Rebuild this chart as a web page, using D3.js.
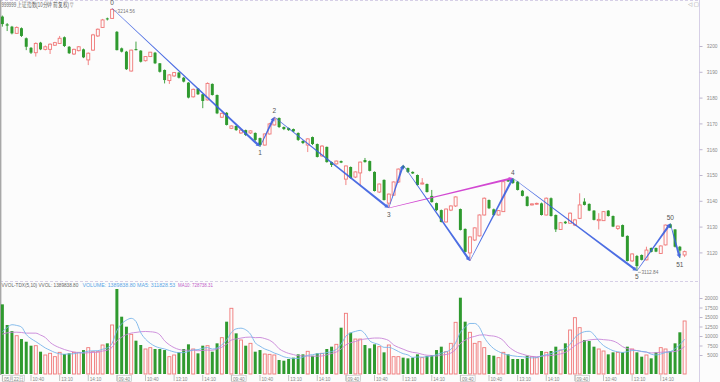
<!DOCTYPE html>
<html>
<head>
<meta charset="utf-8">
<script src="https://cdn.jsdelivr.net/npm/d3@7/dist/d3.min.js"></script>
<style>
body { margin: 0; background: #fcfcfc; }
svg { display: block; font-family: "Liberation Sans", "DejaVu Sans", sans-serif; }
</style>
</head>
<body>
<script>
// 10 minute bars, 6 days x 24 bars
var open = [
3211.4,3208.4,3207.5,3204.9,3206.9,3203.0,3199.3,3197.4,3201.3,3198.7,
3198.7,3200.3,3201.0,3203.4,3199.7,3196.9,3198.2,3198.7,3194.6,3198.4,
3203.9,3207.2,3210.7,3210.7,3205.5,3199.1,3197.8,3190.3,3198.8,3198.2,
3194.3,3195.9,3197.4,3193.3,3190.7,3186.6,3188.4,3189.7,3187.7,3185.8,
3180.3,3183.5,3181.3,3179.1,3185.3,3181.0,3172.4,3174.1,3168.1,3169.0,
3166.3,3167.4,3166.3,3166.3,3164.3,3161.6,3165.9,3169.4,3172.1,3168.6,
3168.2,3167.8,3166.3,3163.2,3161.6,3164.7,3162.0,3157.4,3160.9,3155.0,
3154.3,3155.4,3148.4,3153.1,3149.2,3150.8,3155.8,3155.4,3151.2,3143.4,
3148.1,3139.1,3142.2,3147.3,3153.5,3152.7,3151.2,3150.0,3146.5,3146.5,
3141.9,3139.1,3136.4,3131.8,3136.4,3138.0,3136.8,3129.1,3119.8,3124.8,
3126.4,3134.5,3140.3,3136.7,3134.5,3135.8,3148.2,3148.3,3147.4,3143.9,
3141.6,3138.4,3138.7,3139.0,3134.5,3141.0,3134.5,3128.9,3131.9,3131.3,
3130.6,3133.2,3139.7,3138.8,3136.2,3132.3,3132.3,3136.2,3134.1,3129.3,
3130.6,3126.4,3116.7,3118.6,3119.0,3117.1,3121.7,3121.7,3119.6,3122.9,
3130.9,3128.9,3122.2,3119.0
];
var close = [
3208.5,3207.9,3204.9,3207.2,3203.9,3199.7,3197.4,3201.0,3198.7,3199.7,
3200.7,3201.3,3203.0,3200.0,3197.2,3198.7,3199.7,3195.6,3197.2,3204.3,
3206.5,3210.1,3210.3,3214.2,3198.4,3197.8,3191.0,3198.4,3198.4,3193.9,
3195.9,3197.6,3193.3,3190.0,3186.8,3188.8,3189.7,3187.7,3186.2,3180.0,
3183.2,3181.3,3178.7,3185.5,3181.0,3173.9,3173.9,3169.4,3169.0,3167.4,
3167.4,3165.5,3167.1,3163.6,3161.6,3165.9,3169.8,3171.7,3168.6,3167.8,
3167.4,3166.9,3163.6,3162.4,3164.0,3162.0,3157.0,3161.2,3155.0,3153.9,
3155.4,3154.8,3153.5,3148.8,3151.2,3155.0,3155.0,3151.6,3143.8,3146.5,
3140.3,3142.6,3147.3,3152.3,3152.7,3151.2,3150.6,3146.1,3146.9,3143.4,
3139.5,3136.4,3131.8,3136.8,3138.0,3141.5,3128.7,3120.2,3126.0,3129.5,
3134.5,3141.0,3137.1,3134.5,3136.2,3147.4,3147.5,3146.9,3144.2,3141.9,
3138.0,3138.8,3139.0,3134.5,3141.0,3134.1,3128.9,3131.5,3131.3,3135.2,
3132.6,3138.4,3138.4,3136.2,3132.6,3132.8,3135.8,3134.1,3130.0,3130.2,
3126.1,3116.7,3119.4,3114.7,3117.1,3120.9,3120.2,3120.3,3122.5,3130.6,
3129.6,3122.2,3120.7,3120.3
];
var high = [
3211.8,3208.9,3207.8,3207.6,3207.2,3203.3,3199.6,3201.4,3201.6,3200.2,
3201.0,3201.6,3203.9,3203.7,3200.0,3199.0,3200.0,3199.0,3197.5,3204.7,
3206.8,3210.5,3211.0,3214.56,3205.8,3199.4,3198.1,3198.6,3201.7,3198.4,
3196.1,3197.7,3197.7,3193.4,3190.9,3189.1,3189.9,3189.9,3188.0,3186.0,
3183.5,3183.7,3181.4,3185.9,3185.5,3181.2,3174.2,3174.4,3169.2,3169.2,
3167.6,3167.6,3167.3,3166.5,3164.5,3166.1,3170.2,3172.5,3172.3,3168.8,
3168.4,3168.0,3166.5,3163.4,3164.2,3164.9,3162.2,3161.6,3161.0,3155.2,
3155.6,3155.6,3153.7,3153.3,3151.4,3155.2,3156.6,3155.6,3151.4,3146.7,
3148.3,3142.8,3147.5,3152.5,3153.9,3152.9,3151.4,3150.2,3148.8,3146.7,
3144.2,3139.3,3136.6,3137.0,3138.2,3141.7,3137.0,3129.3,3126.2,3129.7,
3134.7,3141.3,3140.5,3137.0,3136.4,3147.7,3148.5,3148.8,3147.7,3144.2,
3141.9,3139.0,3139.3,3139.3,3141.3,3141.3,3134.7,3131.8,3132.2,3135.5,
3133.0,3142.9,3141.0,3139.0,3136.4,3135.2,3136.0,3136.4,3134.3,3130.4,
3130.8,3126.6,3119.6,3119.0,3119.2,3122.2,3121.9,3121.9,3122.7,3130.8,
3131.2,3129.0,3122.5,3120.7
];
var low = [
3207.5,3205.8,3204.5,3204.7,3203.5,3198.4,3196.9,3195.9,3198.4,3198.3,
3196.9,3200.0,3200.8,3199.6,3196.9,3196.5,3197.9,3195.3,3192.6,3198.1,
3203.5,3207.0,3209.9,3210.5,3198.3,3197.5,3190.7,3190.1,3198.3,3193.6,
3194.0,3195.7,3193.0,3189.7,3185.5,3185.3,3188.0,3187.4,3185.9,3179.7,
3180.0,3181.0,3175.9,3178.9,3180.8,3173.6,3172.1,3169.2,3167.8,3167.1,
3165.9,3165.1,3165.9,3163.2,3161.0,3161.4,3165.7,3169.2,3168.2,3167.4,
3167.1,3166.7,3163.2,3162.0,3158.9,3161.6,3156.8,3157.0,3154.8,3153.1,
3154.1,3154.6,3146.1,3148.6,3148.8,3146.1,3154.8,3151.4,3143.6,3143.0,
3140.1,3137.2,3141.9,3146.9,3152.3,3150.8,3150.4,3145.9,3146.3,3143.2,
3139.3,3136.0,3131.6,3131.6,3136.0,3137.6,3128.5,3120.0,3116.7,3124.4,
3126.2,3134.3,3136.8,3134.1,3134.3,3135.7,3147.3,3146.5,3144.0,3141.7,
3137.8,3138.2,3138.4,3134.3,3134.3,3133.9,3127.9,3128.7,3131.0,3131.2,
3130.2,3132.9,3138.2,3136.0,3132.4,3128.9,3132.2,3133.9,3129.8,3128.7,
3126.0,3116.5,3116.3,3112.84,3116.9,3116.9,3120.0,3120.1,3119.4,3122.7,
3129.4,3121.9,3117.8,3118.2
];
var volume = [
18330,12900,11300,10080,9200,8500,7450,7450,5870,5000,
5440,4560,5700,5260,5440,5700,5700,6300,6930,5870,
5870,7630,8070,12900,22370,15080,12450,10440,8770,7630,
6580,6930,6580,6580,6300,4560,5000,5700,6580,7810,
6580,5440,7450,7450,5870,8070,9560,13770,17290,10700,
8950,7450,8070,5870,6300,5260,5170,5000,3680,3500,
3950,4300,5170,5170,5970,4800,5440,5440,6580,7190,
7810,12190,15970,10880,9200,9200,7630,6760,7810,7190,
5700,7630,4560,4560,4300,4120,4300,5170,4300,4740,
5000,6300,7190,5870,8070,13600,20080,13770,10970,8070,
8500,6930,5000,4820,4300,5700,5170,3950,3950,3950,
4820,4560,4300,6050,5700,6050,7190,6300,8070,11580,
14820,12190,8950,8680,7190,6580,6050,5170,5700,5700,
5700,7190,6580,5700,4560,5000,4120,5700,6930,6580,
6050,8070,10970,13950
];
// bars before the visible window, only feed the moving averages
var prevVolume = [9500,9800,10000,9900,10150,7500,7500,11000,11300];

var priceTicks = [3120,3130,3140,3150,3160,3170,3180,3190,3200];
var volTicks = [5000,7500,10000,12500,15000,17500,20000];
var xTickIndex = [0,6,12,18,24,30,36,42,48,54,60,66,72,78,84,90,96,102,108,114,120,126,132,138];
var xTickLabel = ["05月22日","10:40","13:10","14:10","09:40","10:40","13:10","14:10",
                  "09:40","10:40","13:10","14:10","09:40","10:40","13:10","14:10",
                  "09:40","10:40","13:10","14:10","09:40","10:40","13:10","14:10"];

// wave points: even entries are highs, odd are lows
var pivotIndex = [23,54,57,81,84,98,107,133,140,142];
var pivotLabel = ["0","1","2","3","","","4","5","50","51"];

var legendText = ["VVOL-TDX(5,10) VVOL: 1389838.80", "VOLUME: 1389838.80  MA5: 311828.53", "MA10: 728738.31"];
var legendColor = ["#666", "#5aa6e6", "#c05cc8"];

var width = 720;
var height = 382;
var red = "#f07878";
var green = "#2f9a2f";
var bg = "#fcfcfc";

var svg = d3.select("body").append("svg")
            .attr("width", width)
            .attr("height", height);

svg.append("rect").attr("width", width).attr("height", height).attr("fill", bg);

var x = d3.scaleBand()
          .domain(d3.range(open.length))
          .range([0, 687])
          .paddingInner(0.25)
          .paddingOuter(0.125);
var cx = function(i){ return x(i) + x.bandwidth() / 2; };

var y = d3.scaleLinear().domain([3120, 3200]).range([252.4, 46]);
var yv = d3.scaleLinear().domain([0, 20000]).range([374, 298]);

var up = function(i){ return close[i] >= open[i]; };

function squeeze(sel, k){
  sel.each(function(){
    var w = this.getComputedTextLength();
    d3.select(this).attr("textLength", w * k).attr("lengthAdjust", "spacingAndGlyphs");
  });
}

// frame
svg.append("line").attr("x1", 0).attr("x2", 699).attr("y1", 0.5).attr("y2", 0.5)
   .attr("stroke", "#d6cfe6").attr("stroke-dasharray", "3,2");
svg.append("line").attr("x1", 0).attr("x2", 699).attr("y1", 281.5).attr("y2", 281.5)
   .attr("stroke", "#d6cfe6").attr("stroke-dasharray", "3,2");
svg.append("line").attr("x1", 0.7).attr("x2", 0.7).attr("y1", 0).attr("y2", 375)
   .attr("stroke", "#a8a8a8").attr("stroke-width", 1.4);
svg.append("line").attr("x1", 699.5).attr("x2", 699.5).attr("y1", 0).attr("y2", height)
   .attr("stroke", "#d6cfe6");

// candles
var candle = svg.append("g").selectAll("g")
                .data(d3.range(open.length))
                .enter().append("g");

candle.append("line")
      .attr("x1", cx).attr("x2", cx)
      .attr("y1", function(d){ return y(high[d]); })
      .attr("y2", function(d){ return y(low[d]); })
      .attr("stroke", function(d){ return up(d) ? red : green; })
      .attr("stroke-width", 0.9);

candle.append("rect")
      .attr("x", function(d){ return x(d) + 0.3; })
      .attr("width", x.bandwidth() - 0.6)
      .attr("y", function(d){ return y(Math.max(open[d], close[d])); })
      .attr("height", function(d){ return Math.max(0.8, Math.abs(y(open[d]) - y(close[d]))); })
      .attr("fill", function(d){ return up(d) ? bg : green; })
      .attr("stroke", function(d){ return up(d) ? red : "none"; })
      .attr("stroke-width", 0.9);

// wave lines
function taper(p0, p1, w0, w1){
  var dx = p1[0] - p0[0], dy = p1[1] - p0[1];
  var len = Math.sqrt(dx * dx + dy * dy);
  var nx = -dy / len, ny = dx / len;
  var ux = dx / len, uy = dy / len;
  var tip = [p1[0], p1[1]];
  var base = [p1[0] - ux * 4, p1[1] - uy * 4];
  return [
    [p0[0] + nx * w0 / 2, p0[1] + ny * w0 / 2],
    [base[0] + nx * w1 / 2, base[1] + ny * w1 / 2],
    [base[0] + nx * 2.2, base[1] + ny * 2.2],
    tip,
    [base[0] - nx * 2.2, base[1] - ny * 2.2],
    [base[0] - nx * w1 / 2, base[1] - ny * w1 / 2],
    [p0[0] - nx * w0 / 2, p0[1] - ny * w0 / 2]
  ];
}
var pivotPoint = function(k){
  var i = pivotIndex[k];
  return [cx(i), y(k % 2 === 0 ? high[i] : low[i])];
};

var wave = svg.append("g");
// 3 -> 4 link
wave.append("polygon")
    .attr("points", taper(pivotPoint(3), pivotPoint(6), 0.5, 2.2).join(" "))
    .attr("fill", "#d248d2");
for (var k = 0; k < pivotIndex.length - 1; k++){
  wave.append("polygon")
      .attr("points", taper(pivotPoint(k), pivotPoint(k + 1), 0.5, 2.2).join(" "))
      .attr("fill", "#3a5ee0")
      .attr("fill-opacity", 0.9);
}

wave.selectAll("text")
    .data(d3.range(pivotIndex.length).filter(function(k){ return pivotLabel[k] !== ""; }))
    .enter().append("text")
    .attr("x", function(k){ return pivotPoint(k)[0]; })
    .attr("y", function(k){ return pivotPoint(k)[1] + (k % 2 === 0 ? -3.5 : 8.5); })
    .attr("text-anchor", "middle")
    .attr("font-size", 6.5)
    .attr("fill", "#555")
    .text(function(k){ return pivotLabel[k]; });

// visible max / min
var iMax = d3.maxIndex(high), iMin = d3.minIndex(low);
svg.append("line").attr("x1", cx(iMax) + 1.5).attr("x2", cx(iMax) + 5)
   .attr("y1", y(high[iMax]) + 2.5).attr("y2", y(high[iMax]) + 2.5).attr("stroke", "#888").attr("stroke-width", 0.6);
svg.append("text").attr("x", cx(iMax) + 5.5).attr("y", y(high[iMax]) + 4.5)
   .attr("font-size", 6).attr("fill", "#777").text(d3.format(".2f")(high[iMax]))
   .call(squeeze, 0.8);
svg.append("line").attr("x1", cx(iMin) + 1).attr("x2", cx(iMin) + 4)
   .attr("y1", y(low[iMin]) + 1.5).attr("y2", y(low[iMin]) + 1.5).attr("stroke", "#888").attr("stroke-width", 0.6);
svg.append("text").attr("x", cx(iMin) + 4.5).attr("y", y(low[iMin]) + 3.5)
   .attr("font-size", 6).attr("fill", "#777").text(d3.format(".2f")(low[iMin]))
   .call(squeeze, 0.8);

// price axis
var yAxis = d3.axisRight(y).tickValues(priceTicks).tickSize(3).tickFormat(d3.format("d"));
svg.append("g").attr("transform", "translate(699.5,0)").call(yAxis)
   .call(function(g){ g.select(".domain").remove(); })
   .call(function(g){ g.selectAll(".tick line").attr("stroke", "#bdb6cf"); })
   .call(function(g){
     g.selectAll(".tick text").attr("x", 18).attr("text-anchor", "end")
      .attr("fill", "#8a8a8a").attr("font-size", 6).attr("font-family", null)
      .call(squeeze, 0.8);
   });

// volume bars
svg.append("g").selectAll("rect")
   .data(d3.range(volume.length))
   .enter().append("rect")
   .attr("x", function(d){ return x(d) + 0.3; })
   .attr("width", x.bandwidth() - 0.6)
   .attr("y", function(d){ return yv(volume[d]); })
   .attr("height", function(d){ return yv(0) - yv(volume[d]); })
   .attr("fill", function(d){ return up(d) ? "none" : green; })
   .attr("stroke", function(d){ return up(d) ? red : "none"; })
   .attr("stroke-width", 0.9);

// moving averages of volume
var allVol = prevVolume.concat(volume);
function movingAvg(n){
  return volume.map(function(v, i){
    var j = i + prevVolume.length;
    return d3.mean(allVol.slice(j - n + 1, j + 1));
  });
}
var ma5 = movingAvg(5), ma10 = movingAvg(10);
var maLine = d3.line()
               .x(function(d, i){ return cx(i); })
               .y(function(d){ return yv(d); })
               .curve(d3.curveMonotoneX);
svg.append("path").attr("d", maLine(ma10)).attr("fill", "none")
   .attr("stroke", "#c884d8").attr("stroke-width", 0.9);
svg.append("path").attr("d", maLine(ma5)).attr("fill", "none")
   .attr("stroke", "#78b4ea").attr("stroke-width", 0.9);

// volume axis
var vAxis = d3.axisRight(yv).tickValues(volTicks).tickSize(3).tickFormat(d3.format("d"));
svg.append("g").attr("transform", "translate(699.5,0)").call(vAxis)
   .call(function(g){ g.select(".domain").remove(); })
   .call(function(g){ g.selectAll(".tick line").attr("stroke", "#bdb6cf"); })
   .call(function(g){
     g.selectAll(".tick text").attr("x", 18.5).attr("text-anchor", "end")
      .attr("fill", "#8a8a8a").attr("font-size", 6).attr("font-family", null)
      .call(squeeze, 0.8);
   });

// time axis
var xAxis = d3.axisBottom(x).tickValues(xTickIndex).tickSize(6)
              .tickFormat(function(d, k){ return xTickLabel[k]; });
var xg = svg.append("g").attr("transform", "translate(0,375)").call(xAxis);
xg.select(".domain").remove();
xg.selectAll(".tick line").attr("stroke", "#999").attr("stroke-width", 0.6);
xg.selectAll(".tick text")
  .attr("x", 1.5).attr("y", 1).attr("dy", "0.75em")
  .attr("text-anchor", "start").attr("fill", "#888")
  .attr("font-size", 6).attr("font-family", null)
  .call(squeeze, 0.78);
xg.selectAll(".tick").filter(function(d){ return d % 24 === 0; })
  .each(function(){
    var b = d3.select(this).select("text").node().getBBox();
    d3.select(this).insert("rect", "text")
      .attr("x", b.x - 1.2).attr("y", b.y - 0.3)
      .attr("width", b.width + 2.2).attr("height", b.height + 0.4)
      .attr("fill", "none").attr("stroke", "#b8b8b8").attr("stroke-width", 0.6);
  });

// header texts
svg.append("text").attr("x", 1.5).attr("y", 7).attr("font-size", 6.5).attr("fill", "#666")
   .text("999999 上证指数(10分钟 前复权) ▽")
   .attr("textLength", 72).attr("lengthAdjust", "spacingAndGlyphs");
svg.append("text").attr("x", 688).attr("y", 6).attr("font-size", 5.5).attr("fill", "#999")
   .text("◁ ▢");

// volume legend, each piece scaled to its slot
var legendX = [1.5, 82.5, 178];
var legendW = [77, 93, 35];
svg.append("g").selectAll("text")
   .data(legendText)
   .enter().append("text")
   .attr("font-size", 6)
   .attr("fill", function(d, i){ return legendColor[i]; })
   .text(function(d){ return d; })
   .attr("transform", function(d, i){
     var k = legendW[i] / this.getComputedTextLength();
     return "translate(" + legendX[i] + ",286.5) scale(" + k + ",1)";
   });
</script>
</body>
</html>
